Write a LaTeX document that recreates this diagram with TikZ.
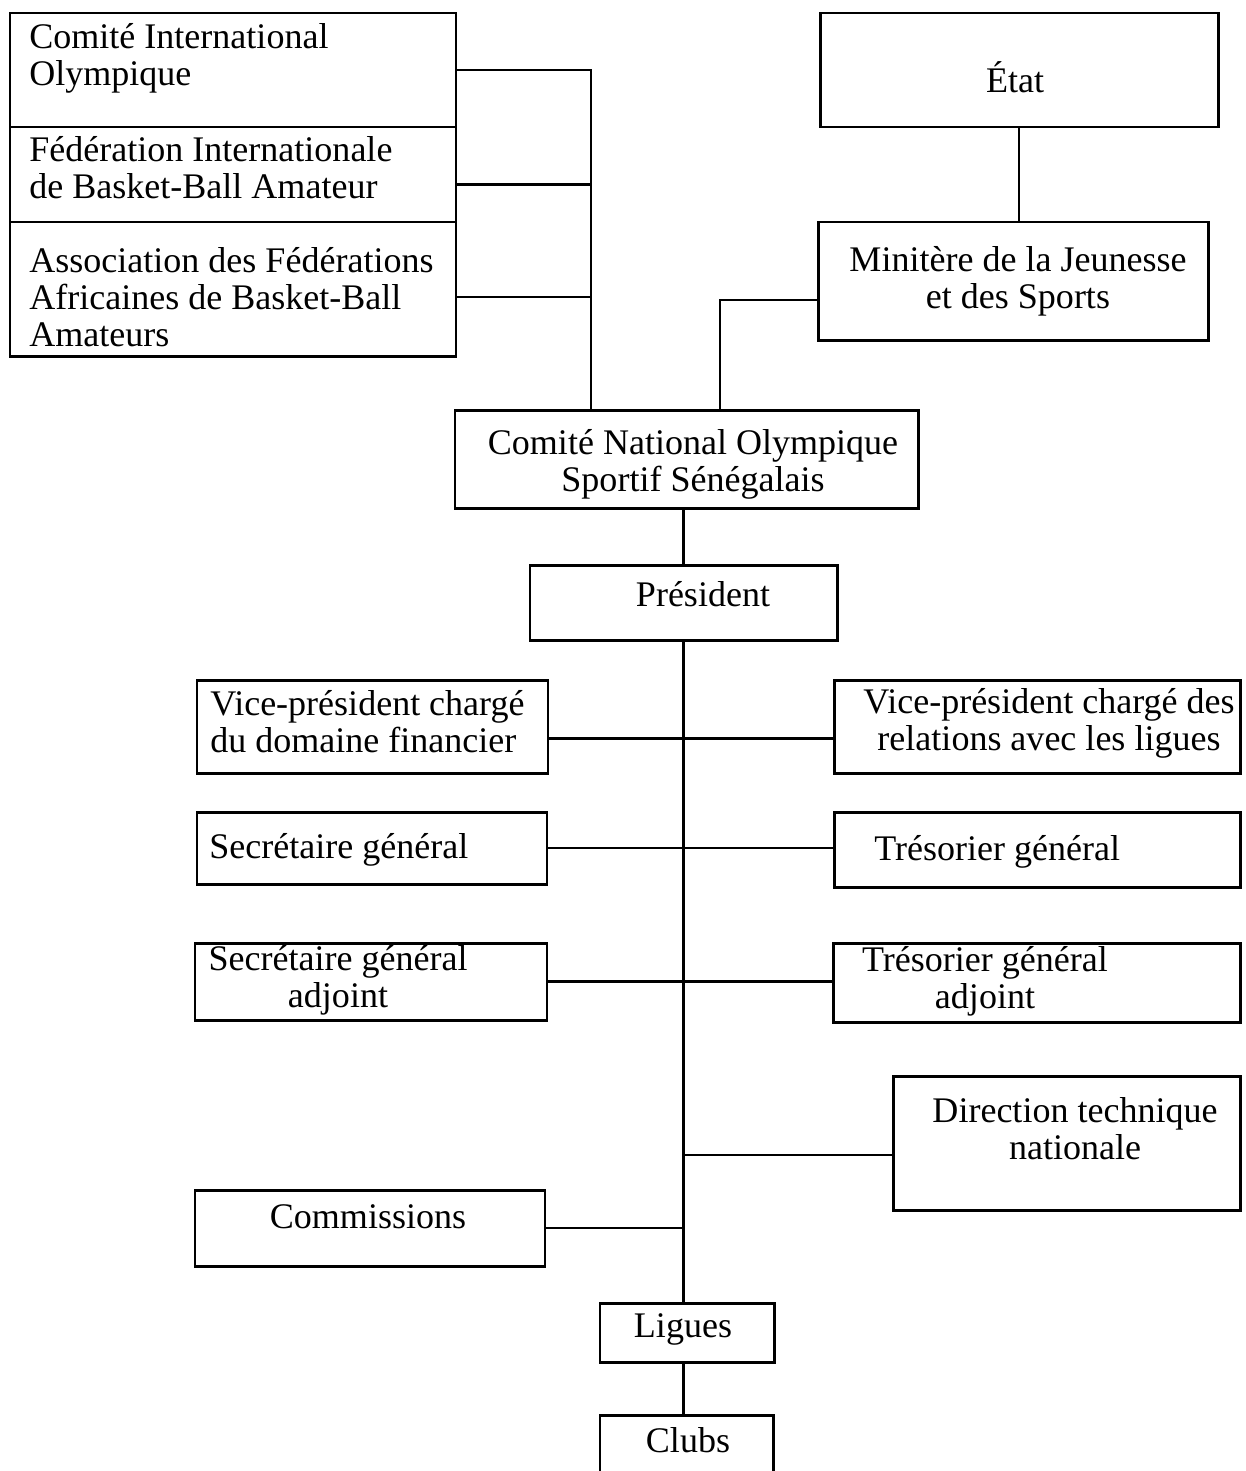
\documentclass[tikz,border=0pt]{standalone}
\usepackage{fontspec}
\setmainfont{Liberation Serif}
\usetikzlibrary{fit}

\newcommand{\orgfont}{\fontsize{20.5}{21}\selectfont}

\begin{document}
\begin{tikzpicture}[
		x=0.02cm,y=-0.02cm,
		line width=1.6pt,
		box/.style={draw,line width=1.7pt,inner sep=0pt},
		txt/.style={inner sep=0pt,font=\orgfont}
		]
		\useasboundingbox (0,0) rectangle (1245,1471);
		\clip (0,0) rectangle (1245,1471);
		
		% boxes
		\node[box,fit={(10,13) (456,127)}](cio){};
		\node[box,fit={(10,127) (456,222)}](fiba){};
		\node[box,fit={(10,222) (456,356)}](afba){};
		\node[box,fit={(820,13) (1218,127)}](etat){};
		\node[box,fit={(818,222) (1208,340)}](min){};
		\node[box,fit={(455,410) (918,508)}](cno){};
		\node[box,fit={(530,565) (837,640)}](pres){};
		\node[box,fit={(197,680) (548,773)}](vpf){};
		\node[box,fit={(834,680) (1240,773)}](vpr){};
		\node[box,fit={(197,812) (547,884)}](sg){};
		\node[box,fit={(834,812) (1240,887)}](tg){};
		\node[box,fit={(195,943) (547,1020)}](sga){};
		\node[box,fit={(833,943) (1240,1022)}](tga){};
		\node[box,fit={(893,1076) (1240,1210)}](dtn){};
		\node[box,fit={(195,1190) (545,1266)}](com){};
		\node[box,fit={(600,1303) (774,1362)}](lig){};
		\node[box,fit={(600,1415) (773,1500)}](clubs){};
		
		% texts
		\node[txt,anchor=west,align=left](cio-t) at (28,58){Comité International\\Olympique};
		\node[txt,anchor=west,align=left](fiba-t) at (28,168){Fédération Internationale\\de Basket-Ball Amateur};
		\node[txt,anchor=west,align=left](afba-t) at (28,297){Association des Fédérations\\Africaines de Basket-Ball\\Amateurs};
		\node[txt](etat-t) at (1015,77){État};
		\node[txt,align=center](min-t) at (1018,281){Minitère de la Jeunesse\\et des Sports};
		\node[txt,align=center](cno-t) at (693,464){Comité National Olympique\\Sportif Sénégalais};
		\node[txt](pres-t) at (703,594){Président};
		\node[txt,anchor=west,align=left](vpf-t) at (209,722){Vice-président chargé\\du domaine financier};
		\node[txt,align=center](vpr-t) at (1049,723){Vice-président chargé des\\relations avec les ligues};
		\node[txt,anchor=west](sg-t) at (208,850){Secrétaire général};
		\node[txt,anchor=west](tg-t) at (873,852){Trésorier général};
		\node[txt,align=center](sga-t) at (338,980){Secrétaire général\\adjoint};
		\node[txt,align=center](tga-t) at (985,981){Trésorier général\\adjoint};
		\node[txt,align=center](dtn-t) at (1075,1129){Direction technique\\nationale};
		\node[txt](com-t) at (368,1217){Commissions};
		\node[txt](lig-t) at (683,1329){Ligues};
		\node[txt](clubs-t) at (688,1440){Clubs};
		
		\coordinate (jl) at (591,72);
		\coordinate (jr) at (720,300);
		
		\path[draw]
		(cio.east) -| (jl |- cno.north)
		([yshift=-0.2cm]fiba.east) -- ([yshift=-0.2cm]fiba.east -| jl)
		([yshift=-0.16cm]afba.east) -- ([yshift=-0.16cm]afba.east -| jl)
		(etat.south) -- (etat.south |- min.north)
		([yshift=-0.38cm]min.west) -| (jr |- cno.north)
		(pres.north) -- (pres.north |- cno.south)
		(pres.south) -- (pres.south |- lig.north)
		([yshift=-0.24cm]vpf.east) -- ([yshift=-0.24cm]vpr.west)
		(sg.east) -- (sg.east -| tg.west)
		(sga.east) -- (sga.east -| tga.west)
		([yshift=-0.24cm]dtn.west) -- ([yshift=-0.24cm]dtn.west -| pres.south)
		(com.east) -- (com.east -| pres.south)
		(lig.south -| pres.south) -- (clubs.north -| pres.south)
		;
		
\end{tikzpicture}
\end{document}
